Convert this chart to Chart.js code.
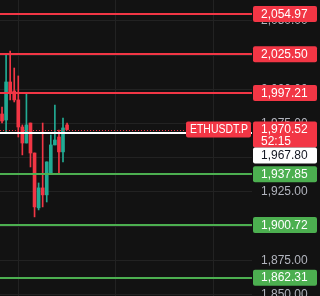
<!DOCTYPE html>
<html>
<head>
<meta charset="utf-8">
<script src="https://cdn.jsdelivr.net/npm/chart.js@4"></script>
<style>
  html, body { margin: 0; padding: 0; background: #121212; }
  #wrap { width: 320px; height: 296px; position: relative; }
</style>
</head>
<body>
<div id="wrap"><canvas id="chart"></canvas></div>
<script>
// hourly candles, ETHUSDT.P perp
const opens  = [1981.9, 1977.5, 2005.3, 1998.7, 1992.2, 1972.4, 1960.7, 1975.3, 1953.4, 1913.3, 1927.9, 1922.8, 1938.8, 1959.3, 1965.1, 1954.2, 1973.9];
const highs  = [1987.0, 2025.0, 2027.9, 2015.5, 2009.7, 1973.9, 1997.3, 1975.3, 1953.4, 1931.5, 1975.3, 1946.9, 1966.6, 1988.5, 1970.2, 1979.0, 1975.3];
const lows   = [1975.3, 1968.0, 1992.2, 1990.7, 1965.1, 1952.0, 1960.7, 1943.2, 1906.7, 1911.8, 1914.0, 1917.6, 1938.8, 1959.3, 1938.8, 1946.9, 1970.2];
const closes = [1976.8, 2005.3, 1998.0, 1992.2, 1972.4, 1960.7, 1973.9, 1953.4, 1914.0, 1927.9, 1922.8, 1946.9, 1959.3, 1962.9, 1954.2, 1971.7, 1970.52];

const levelPrices = [2054.97, 2025.50, 1997.21, 1937.85, 1900.72, 1862.31];
const priceTicks = [1850, 1875, 1900, 1925, 1950, 1975, 2000, 2025, 2050];
const symbol = 'ETHUSDT.P';
const lastPrice = 1970.52;
const countdown = '52:15';
const markPrice = 1967.80;

// time slots on the x axis (first candle at 20:00, day breaks at 00:00)
const slots = [];
for (let i = 0; i < 62; i++) slots.push(String((20 + i) % 24).padStart(2, '0') + ':00');

const UP = '#22ab94', DOWN = '#f23645', SUP = '#4caf50', GRID = '#222222';
const FONT = 'Liberation Sans, Arial, sans-serif';
const fmt = v => v.toLocaleString('en-US', { minimumFractionDigits: 2, maximumFractionDigits: 2 });
const candleColors = opens.map((o, i) => closes[i] >= o ? UP : DOWN);

const levelsPlugin = {
  id: 'levels',
  afterDatasetsDraw(chart) {
    const { ctx, chartArea: a, scales: { y } } = chart;
    ctx.save();
    levelPrices.forEach(p => {
      const py = Math.round(y.getPixelForValue(p));
      ctx.strokeStyle = p > lastPrice ? DOWN : SUP;
      ctx.lineWidth = 2;
      ctx.beginPath(); ctx.moveTo(a.left, py); ctx.lineTo(a.right, py); ctx.stroke();
    });
    // mark price line
    const my = Math.round(y.getPixelForValue(markPrice));
    ctx.strokeStyle = '#ffffff';
    ctx.lineWidth = 2;
    ctx.beginPath(); ctx.moveTo(a.left, my); ctx.lineTo(a.right, my); ctx.stroke();
    // last price dotted line
    const ly = Math.round(y.getPixelForValue(lastPrice)) + 0.5;
    ctx.strokeStyle = DOWN;
    ctx.lineWidth = 1;
    ctx.setLineDash([1, 2]);
    ctx.beginPath(); ctx.moveTo(a.left, ly); ctx.lineTo(a.right, ly); ctx.stroke();
    ctx.restore();
  },
  afterDraw(chart) {
    const { ctx, chartArea: a, scales: { y } } = chart;
    ctx.save();
    ctx.font = '12px ' + FONT;
    ctx.textBaseline = 'middle';

    // symbol tag on the last price
    const ly = y.getPixelForValue(lastPrice);
    ctx.fillStyle = DOWN;
    ctx.beginPath(); ctx.roundRect(a.right - 66, ly - 8, 65, 16, 2); ctx.fill();
    ctx.fillStyle = '#ffffff';
    ctx.fillText(symbol, a.right - 62, ly + 0.5, 58);

    const tags = levelPrices.map(p => ({ y: y.getPixelForValue(p), lines: [fmt(p)], bg: p > lastPrice ? DOWN : SUP, fg: '#ffffff' }));
    tags.push({ y: ly, lines: [fmt(lastPrice), countdown], bg: DOWN, fg: '#ffffff' });
    tags.push({ y: y.getPixelForValue(markPrice), lines: [fmt(markPrice)], bg: '#ffffff', fg: '#131722' });
    tags.sort((p, q) => p.y - q.y);

    let prevBottom = -Infinity;
    tags.forEach(t => {
      const h = t.lines.length > 1 ? 26 : 16;
      const top = Math.max(t.y - 8, prevBottom);
      prevBottom = top + h;
      ctx.fillStyle = t.bg;
      ctx.beginPath(); ctx.roundRect(a.right + 1, top, 64, h, 2); ctx.fill();
      ctx.fillStyle = t.fg;
      t.lines.forEach((s, k) => ctx.fillText(s, a.right + 9, top + 8.5 + k * 12));
    });
    ctx.restore();
  }
};

new Chart(document.getElementById('chart'), {
  type: 'bar',
  data: {
    labels: slots,
    datasets: [
      { label: 'wick', data: lows.map((l, i) => [l, highs[i]]), backgroundColor: candleColors, barThickness: 1, grouped: false, borderWidth: 0 },
      { label: 'body', data: opens.map((o, i) => [o, closes[i]]), backgroundColor: candleColors, barThickness: 3, grouped: false, borderWidth: 0, minBarLength: 1 }
    ]
  },
  options: {
    responsive: true,
    maintainAspectRatio: false,
    animation: false,
    layout: { padding: 0 },
    plugins: { legend: { display: false }, tooltip: { enabled: false } },
    scales: {
      x: {
        offset: true,
        ticks: { display: false, autoSkip: false },
        border: { display: false },
        grid: {
          offset: false,
          drawTicks: false,
          color: c => slots[c.index] === '00:00' ? GRID : 'rgba(0,0,0,0)'
        }
      },
      y: {
        position: 'right',
        min: 1848.9,
        max: 2065.2,
        afterBuildTicks: s => { s.ticks = priceTicks.map(v => ({ value: v })); },
        afterFit: s => { s.width = 68; s.paddingTop = 0; s.paddingBottom = 0; },
        border: { display: false },
        grid: { color: GRID, drawTicks: false },
        ticks: {
          padding: 9,
          color: '#b2b5be',
          font: { family: FONT, size: 12 },
          callback: v => fmt(v)
        }
      }
    }
  },
  plugins: [levelsPlugin]
});
</script>
</body>
</html>
